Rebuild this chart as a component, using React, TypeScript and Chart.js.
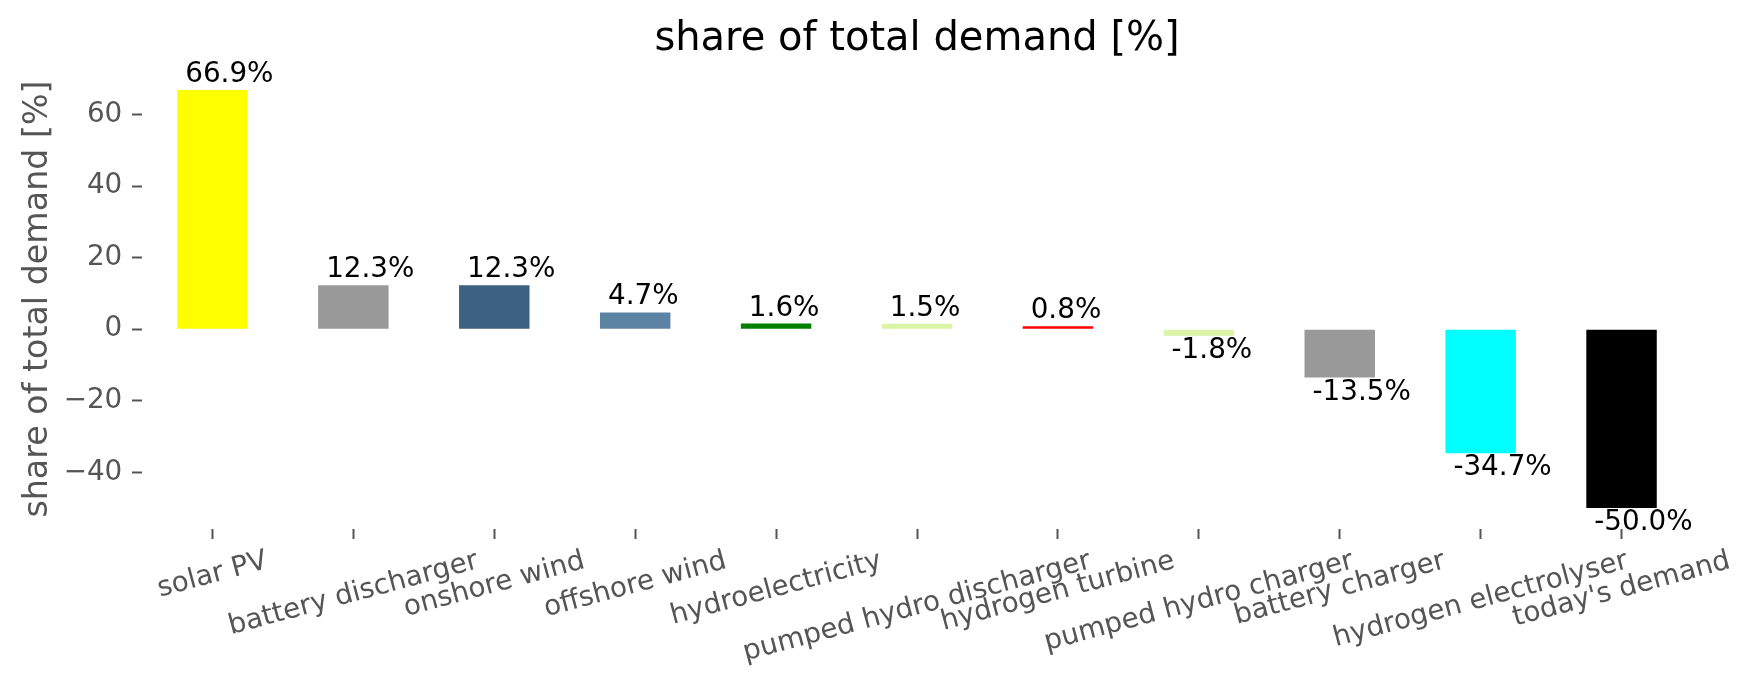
import { Chart, registerables } from 'chart.js'
import React, { useEffect, useRef } from 'react'

Chart.register(...registerables)

const categories = [
  'solar PV',
  'battery discharger',
  'onshore wind',
  'offshore wind',
  'hydroelectricity',
  'pumped hydro discharger',
  'hydrogen turbine',
  'pumped hydro charger',
  'battery charger',
  'hydrogen electrolyser',
  "today's demand"
]
const shares = [66.9, 12.3, 12.3, 4.7, 1.6, 1.5, 0.8, -1.8, -13.5, -34.7, -50.0]
const barColors = [
  '#ffff00',
  '#999999',
  '#3c6181',
  '#5c83a4',
  '#008000',
  '#d9f5a5',
  '#ff0000',
  '#d9f5a5',
  '#999999',
  '#00ffff',
  '#000000'
]
const yTicks = [-40, -20, 0, 20, 40, 60]

const FONT = "'DejaVu Sans', sans-serif"
const GREY = '#555555'
const ROT = (15 * Math.PI) / 180

// labels above / below each bar, like the matplotlib annotations
const valueLabels = {
  id: 'valueLabels',
  afterDatasetsDraw(chart: Chart) {
    const ctx = chart.ctx
    const meta = chart.getDatasetMeta(0)
    ctx.save()
    ctx.font = `27.8px ${FONT}`
    ctx.fillStyle = '#000'
    ctx.textAlign = 'left'
    ctx.textBaseline = 'alphabetic'
    meta.data.forEach((el: any, i: number) => {
      const v = shares[i]
      const left = el.x - el.width / 2 + 8
      const y = v >= 0 ? el.y - 8 : el.y + 22
      ctx.fillText(`${v.toFixed(1)}%`, left, y)
    })
    ctx.restore()
  }
}

// rotated x labels, centred under the tick like matplotlib does
const xLabels = {
  id: 'xLabels',
  afterDraw(chart: Chart) {
    const ctx = chart.ctx
    const xs = chart.scales.x
    const top = chart.chartArea.bottom + 10 + 6
    ctx.save()
    ctx.font = `27.8px ${FONT}`
    ctx.fillStyle = GREY
    ctx.textAlign = 'center'
    ctx.textBaseline = 'middle'
    categories.forEach((label, i) => {
      const w = ctx.measureText(label).width
      const h = 27.8 * 1.17
      const cy = top + (w * Math.sin(ROT) + h * Math.cos(ROT)) / 2
      ctx.save()
      ctx.translate(xs.getPixelForValue(i), cy)
      ctx.rotate(-ROT)
      ctx.fillText(label, 0, 0)
      ctx.restore()
    })
    ctx.restore()
  }
}

const App: React.FC = () => {
  const canvasRef = useRef<HTMLCanvasElement | null>(null)
  const chartRef = useRef<Chart | null>(null)

  useEffect(() => {
    if (!canvasRef.current) return
    if (chartRef.current) chartRef.current.destroy()

    chartRef.current = new Chart(canvasRef.current, {
      type: 'bar',
      data: {
        labels: categories,
        datasets: [
          {
            data: shares,
            backgroundColor: barColors,
            borderWidth: 0,
            barPercentage: 0.5,
            categoryPercentage: 1
          }
        ]
      },
      plugins: [valueLabels, xLabels],
      options: {
        animation: false,
        responsive: true,
        maintainAspectRatio: false,
        font: { family: FONT },
        layout: { padding: { left: 0, right: 61, top: 0, bottom: 0 } },
        plugins: {
          legend: { display: false },
          tooltip: { enabled: false },
          title: {
            display: true,
            fullSize: false, // centre over the plot area, not the canvas
            text: 'share of total demand [%]',
            color: '#000',
            font: { family: FONT, size: 40, weight: 'normal' },
            padding: { top: 15.5, bottom: 5.5 }
          }
        },
        scales: {
          x: {
            afterFit: (s: any) => {
              s.height = 160
            },
            border: { display: false },
            grid: {
              display: true,
              offset: false,
              drawOnChartArea: false,
              drawTicks: true,
              tickLength: 10,
              tickWidth: 2,
              tickColor: GREY
            },
            ticks: { display: false }
          },
          y: {
            min: -55.845,
            max: 72.745,
            afterFit: (s: any) => {
              s.width = 142
            },
            afterBuildTicks: (s: any) => {
              s.ticks = yTicks.map((value) => ({ value }))
            },
            border: { display: false },
            grid: {
              display: true,
              drawOnChartArea: false,
              drawTicks: true,
              tickLength: 10,
              tickWidth: 2,
              tickColor: GREY
            },
            ticks: {
              color: GREY,
              padding: 9.7,
              font: { family: FONT, size: 27.8 },
              callback: (v: any) => (v < 0 ? '\u2212' + Math.abs(v) : String(v))
            },
            title: {
              display: true,
              text: 'share of total demand [%]',
              color: GREY,
              font: { family: FONT, size: 33.3 },
              padding: { top: 18, bottom: 0 }
            }
          }
        }
      }
    })

    return () => {
      if (chartRef.current) {
        chartRef.current.destroy()
        chartRef.current = null
      }
    }
  }, [])

  return (
    <div style={{ position: 'fixed', left: 0, top: 0, width: 1753, height: 689, background: '#fff' }}>
      <canvas ref={canvasRef}></canvas>
    </div>
  )
}

export default App
